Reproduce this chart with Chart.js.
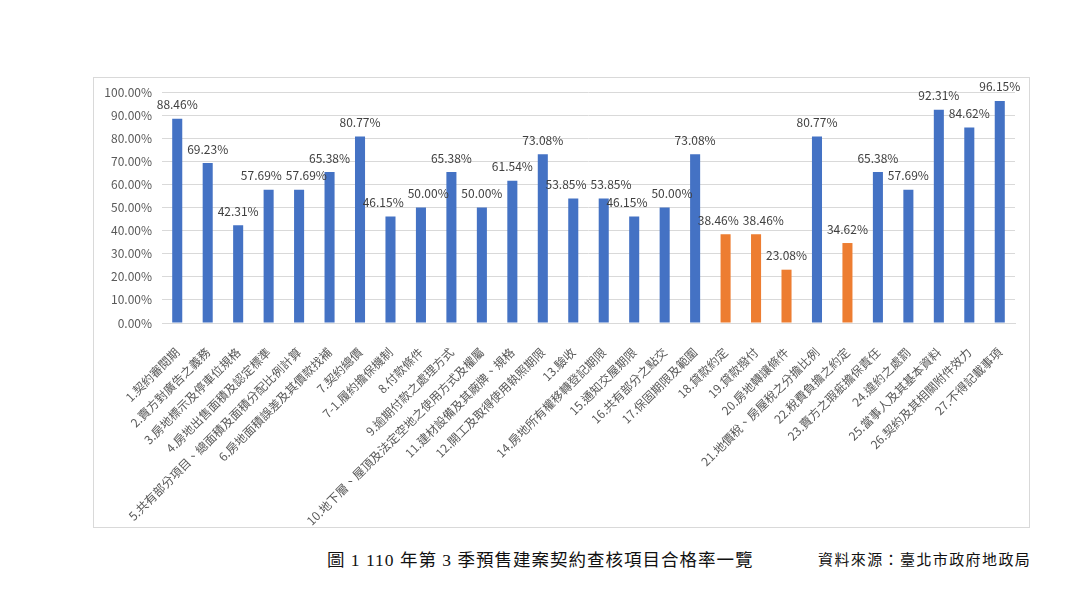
<!DOCTYPE html>
<html>
<head>
<meta charset="utf-8">
<script src="https://cdn.jsdelivr.net/npm/chart.js@4"></script>
<style>
  body { margin: 0; background: #fff; width: 1080px; height: 592px; position: relative; overflow: hidden; }
  #box { position: absolute; left: 93px; top: 77px; width: 937px; height: 451px; border: 1px solid #d9d9d9; box-sizing: border-box; }
  #caption { position: absolute; left: 327px; top: 546px; font-family: "Liberation Serif", "Noto Sans CJK TC", serif; font-size: 17.5px; letter-spacing: 1px; color: #111; white-space: nowrap; }
  #source { position: absolute; left: 818px; top: 548px; font-family: "Liberation Serif", "Noto Sans CJK TC", serif; font-size: 15px; letter-spacing: 1.4px; color: #111; white-space: nowrap; }
</style>
</head>
<body>
<div id="box"><canvas id="chart" width="935" height="449"></canvas></div>
<div id="caption">圖 1 110 年第 3 季預售建案契約查核項目合格率一覽</div>
<div id="source">資料來源：臺北市政府地政局</div>
<script>
const items = [
  "1.契約審閱期", "2.賣方對廣告之義務", "3.房地標示及停車位規格", "4.房地出售面積及認定標準",
  "5.共有部分項目、總面積及面積分配比例計算", "6.房地面積誤差及其價款找補", "7.契約總價", "7-1.履約擔保機制",
  "8.付款條件", "9.逾期付款之處理方式", "10.地下層、屋頂及法定空地之使用方式及權屬", "11.建材設備及其廠牌、規格",
  "12.開工及取得使用執照期限", "13.驗收", "14.房地所有權移轉登記期限", "15.通知交屋期限",
  "16.共有部分之點交", "17.保固期限及範圍", "18.貸款約定", "19.貸款撥付",
  "20.房地轉讓條件", "21.地價稅、房屋稅之分擔比例", "22.稅費負擔之約定", "23.賣方之瑕疵擔保責任",
  "24.違約之處罰", "25.當事人及其基本資料", "26.契約及其相關附件效力", "27.不得記載事項"
];

const passRate = [
  88.46, 69.23, 42.31, 57.69, 57.69, 65.38, 80.77, 46.15,
  50.00, 65.38, 50.00, 61.54, 73.08, 53.85, 53.85, 46.15,
  50.00, 73.08, 38.46, 38.46, 23.08, 80.77, 34.62, 65.38,
  57.69, 92.31, 84.62, 96.15
];

// 以橘色標示的項目
const lowItems = ["18.貸款約定", "19.貸款撥付", "20.房地轉讓條件", "22.稅費負擔之約定"];

const yTicks = [0, 10, 20, 30, 40, 50, 60, 70, 80, 90, 100];

const BLUE = "#4472c4";
const ORANGE = "#ed7d31";
const FONT = '"Noto Sans CJK TC", "Noto Sans", sans-serif';

const barColors = items.map(name => lowItems.includes(name) ? ORANGE : BLUE);

// 數值標籤（重疊時左右錯開）
const valueLabels = {
  id: "valueLabels",
  afterDatasetsDraw(chart) {
    const ctx = chart.ctx;
    const meta = chart.getDatasetMeta(0);
    ctx.save();
    ctx.font = "12px " + FONT;
    ctx.fillStyle = "#404040";
    ctx.textAlign = "center";
    ctx.textBaseline = "middle";
    let boxes = meta.data.map((bar, i) => {
      const text = passRate[i].toFixed(2) + "%";
      const w = ctx.measureText(text).width;
      return { text, x: bar.x, y: bar.y - 14, w };
    });
    for (let i = 1; i < boxes.length; i++) {
      const a = boxes[i - 1], b = boxes[i];
      const overlap = (a.x + a.w / 2) - (b.x - b.w / 2) + 4;
      if (overlap > 0 && Math.abs(a.y - b.y) < 13) {
        a.x -= overlap / 2;
        b.x += overlap / 2;
      }
    }
    boxes.forEach(b => ctx.fillText(b.text, b.x, b.y));
    ctx.restore();
  }
};

new Chart(document.getElementById("chart"), {
  type: "bar",
  data: {
    labels: items,
    datasets: [{
      data: passRate,
      backgroundColor: barColors,
      barPercentage: 0.33,
      categoryPercentage: 1
    }]
  },
  options: {
    responsive: false,
    animation: false,
    layout: { padding: { left: 0, right: 14, top: 14, bottom: 0 } },
    plugins: {
      legend: { display: false },
      tooltip: { enabled: false }
    },
    scales: {
      x: {
        grid: { display: false },
        border: { display: true, color: "#d9d9d9" },
        ticks: {
          autoSkip: false,
          maxRotation: 45,
          minRotation: 45,
          padding: 14,
          color: "#595959",
          font: { family: FONT, size: 12 }
        },
        afterFit(scale) { scale.height = 204; }
      },
      y: {
        min: 0,
        max: 100,
        afterBuildTicks(scale) { scale.ticks = yTicks.map(v => ({ value: v })); },
        grid: { color: "#d9d9d9", drawTicks: false },
        border: { display: false },
        ticks: {
          padding: 10,
          color: "#595959",
          font: { family: FONT, size: 12 },
          callback: v => v.toFixed(2) + "%"
        },
        afterFit(scale) {
          scale.width = 68;
          scale.paddingTop = 0;
          scale.paddingBottom = 0;
        }
      }
    }
  },
  plugins: [valueLabels]
});
</script>
</body>
</html>
